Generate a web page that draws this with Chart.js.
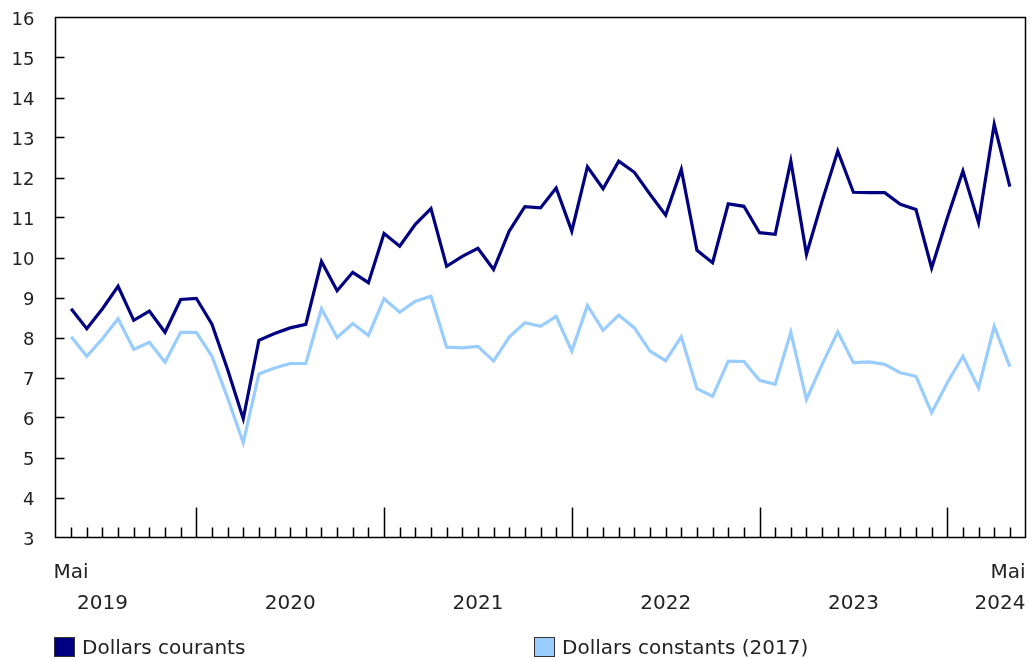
<!DOCTYPE html>
<html>
<head>
<meta charset="utf-8">
<script src="https://cdn.jsdelivr.net/npm/chart.js@4/dist/chart.umd.min.js"></script>
<style>
  body { margin: 0; background: #fff; }
  #wrap { position: relative; width: 1036px; height: 659px; }
  .legend { position: absolute; top: 636px; height: 22px; display: flex; align-items: center;
            font: 20px "DejaVu Sans", Verdana, sans-serif; color: #222; line-height: 22px; }
  .legend .box { width: 19px; height: 18px; border: 1.5px solid #333; margin-right: 7px; }
</style>
</head>
<body>
<div id="wrap">
  <canvas id="chart" width="1036" height="659"></canvas>
  <div class="legend" style="left:54px"><span class="box" style="background:#000080"></span>Dollars courants</div>
  <div class="legend" style="left:534px"><span class="box" style="background:#99ccff"></span>Dollars constants (2017)</div>
</div>
<script>
// Months, May 2019 to May 2024
const categories = [
  '2019-05','2019-06','2019-07','2019-08','2019-09','2019-10','2019-11','2019-12',
  '2020-01','2020-02','2020-03','2020-04','2020-05','2020-06','2020-07','2020-08','2020-09','2020-10','2020-11','2020-12',
  '2021-01','2021-02','2021-03','2021-04','2021-05','2021-06','2021-07','2021-08','2021-09','2021-10','2021-11','2021-12',
  '2022-01','2022-02','2022-03','2022-04','2022-05','2022-06','2022-07','2022-08','2022-09','2022-10','2022-11','2022-12',
  '2023-01','2023-02','2023-03','2023-04','2023-05','2023-06','2023-07','2023-08','2023-09','2023-10','2023-11','2023-12',
  '2024-01','2024-02','2024-03','2024-04','2024-05'
];

const dollarsCourants = [
  8.72, 8.22, 8.72, 9.28, 8.43, 8.66, 8.13, 8.95,
  8.98, 8.33, 7.20, 5.97, 7.93, 8.10, 8.24, 8.33, 9.90, 9.17, 9.63, 9.37,
  10.60, 10.28, 10.83, 11.22, 9.78, 10.03, 10.23, 9.70, 10.66, 11.27, 11.24, 11.74,
  10.66, 12.27, 11.72, 12.41, 12.13, 11.58, 11.06, 12.20, 10.18, 9.87, 11.34, 11.28,
  10.62, 10.58, 12.41, 10.08, 11.41, 12.66, 11.63, 11.62, 11.62, 11.33, 11.20, 9.74,
  10.99, 12.16, 10.87, 13.33, 11.77
];

const dollarsConstants = [
  8.02, 7.53, 7.97, 8.47, 7.70, 7.88, 7.38, 8.13,
  8.13, 7.53, 6.49, 5.37, 7.09, 7.24, 7.35, 7.35, 8.72, 8.00, 8.35, 8.05,
  8.97, 8.63, 8.91, 9.03, 7.76, 7.74, 7.78, 7.41, 8.01, 8.37, 8.28, 8.53,
  7.66, 8.80, 8.18, 8.56, 8.24, 7.66, 7.42, 8.02, 6.72, 6.53, 7.41, 7.40,
  6.93, 6.83, 8.13, 6.45, 7.33, 8.14, 7.37, 7.39, 7.33, 7.12, 7.03, 6.12,
  6.87, 7.53, 6.74, 8.28, 7.27
];

const monthLabel = 'Mai';
const FONT = '"DejaVu Sans", Verdana, sans-serif';
const INK = '#222';

const toPoints = (values) => values.map((y, i) => ({ x: i, y }));

// box, inner tick marks and the two-row month/year labels
const frame = {
  id: 'frame',
  afterDraw(chart) {
    const { ctx, chartArea: a, scales } = chart;
    const xs = scales.x, ys = scales.y;
    ctx.save();
    ctx.strokeStyle = '#000';
    ctx.lineWidth = 1.5;
    ctx.beginPath();
    for (let v = 4; v < 16; v++) {
      const y = Math.round(ys.getPixelForValue(v)) + 0.5;
      ctx.moveTo(a.left, y);
      ctx.lineTo(a.left + 9, y);
    }
    categories.forEach((c, i) => {
      const x = Math.round(xs.getPixelForValue(i)) + 0.5;
      const len = c.endsWith('-01') ? 30 : 10;
      ctx.moveTo(x, a.bottom);
      ctx.lineTo(x, a.bottom - len);
    });
    ctx.stroke();
    ctx.strokeRect(a.left, a.top, a.right - a.left, a.bottom - a.top);

    ctx.fillStyle = INK;
    ctx.font = '20px ' + FONT;
    ctx.textBaseline = 'alphabetic';
    ctx.textAlign = 'center';
    ctx.fillText(monthLabel, xs.getPixelForValue(0), a.bottom + 40.5);
    categories.forEach((c, i) => {
      if (c.endsWith('-07')) ctx.fillText(c.slice(0, 4), xs.getPixelForValue(i), a.bottom + 71.5);
    });
    const last = categories[categories.length - 1];
    ctx.textAlign = 'right';
    ctx.fillText(monthLabel, a.right, a.bottom + 40.5);
    ctx.fillText(last.slice(0, 4), a.right, a.bottom + 71.5);
    ctx.restore();
  },
};

new Chart(document.getElementById('chart'), {
  type: 'line',
  data: {
    datasets: [
      {
        label: 'Dollars courants',
        data: toPoints(dollarsCourants),
        borderColor: '#000080',
        backgroundColor: '#000080',
        borderWidth: 3.2,
        pointRadius: 0,
        tension: 0,
      },
      {
        label: 'Dollars constants (2017)',
        data: toPoints(dollarsConstants),
        borderColor: '#99ccff',
        backgroundColor: '#99ccff',
        borderWidth: 3.2,
        pointRadius: 0,
        tension: 0,
      },
    ],
  },
  options: {
    responsive: false,
    animation: false,
    devicePixelRatio: 1,
    layout: { padding: { left: 0, top: 17.5, right: 10.5, bottom: 0 } },
    plugins: { legend: { display: false }, tooltip: { enabled: false } },
    scales: {
      x: {
        type: 'linear',
        min: -1,
        max: 61,
        ticks: { display: false },
        grid: { display: false, drawTicks: false },
        border: { display: false },
        afterFit: (s) => { s.height = 121.5; s.paddingLeft = 0; s.paddingRight = 0; },
      },
      y: {
        min: 3,
        max: 16,
        ticks: { stepSize: 1, color: INK, font: { family: FONT, size: 18 }, padding: 21, labelOffset: 3 },
        grid: { display: false, drawTicks: false },
        border: { display: false },
        afterFit: (s) => { s.width = 55.5; s.paddingTop = 0; s.paddingBottom = 0; },
      },
    },
  },
  plugins: [frame],
});
</script>
</body>
</html>
